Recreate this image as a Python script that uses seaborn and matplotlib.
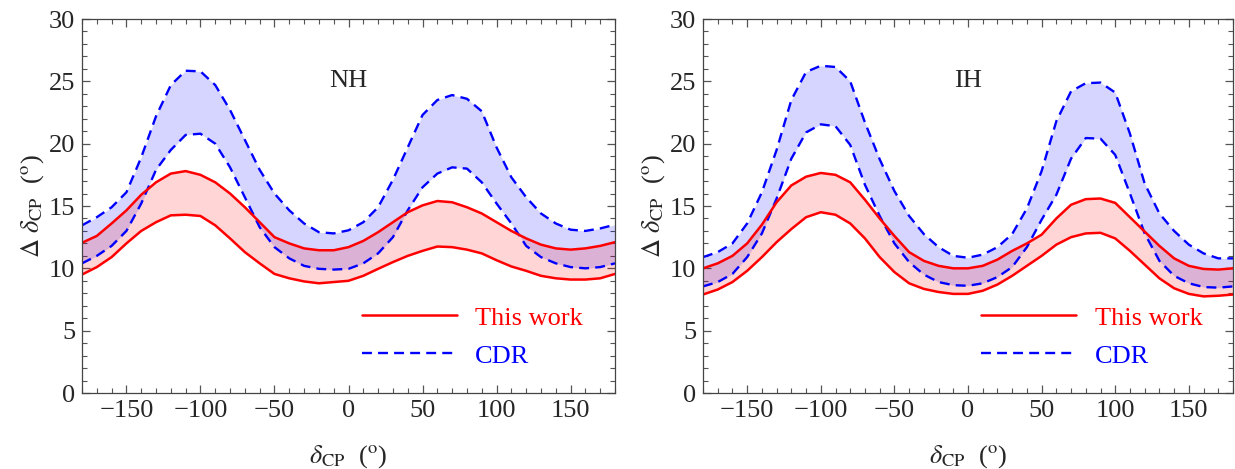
import numpy as np
import pandas as pd
import matplotlib
matplotlib.use("Agg")
import matplotlib.pyplot as plt
from matplotlib.lines import Line2D
from matplotlib.ticker import MultipleLocator
import seaborn as sns

# ---------------- data ----------------
delta_cp = [-180, -170, -160, -150, -140, -130, -120, -110, -100, -90, -80, -70, -60,
            -50, -40, -30, -20, -10, 0, 10, 20, 30, 40, 50, 60, 70, 80, 90, 100,
            110, 120, 130, 140, 150, 160, 170, 180]

# NH
nh_cdr_upper = [13.45, 14.1, 14.9, 16.1, 18.9, 22.2, 24.7, 25.85, 25.8, 24.7, 22.7, 20.3, 17.9,
                16.0, 14.65, 13.6, 12.9, 12.8, 13.05, 13.7, 14.9, 17.1, 19.7, 22.3, 23.5, 23.9, 23.6, 22.6, 19.7,
                17.3, 15.7, 14.4, 13.6, 13.1, 13.0, 13.2, 13.5]
nh_cdr_lower = [10.4, 11.0, 11.8, 13.0, 15.2, 17.9, 19.5, 20.7, 20.8, 20.0, 18.1, 15.7, 13.3,
                11.7, 10.8, 10.2, 9.96, 9.9, 9.96, 10.4, 11.2, 12.5, 14.65, 16.5, 17.6, 18.1, 18.0, 16.9, 15.2,
                13.6, 11.8, 10.9, 10.4, 10.1, 10.0, 10.1, 10.4]
nh_this_upper = [12.05, 12.6, 13.6, 14.65, 15.9, 16.9, 17.6, 17.8, 17.5, 16.9, 16.0, 14.9, 13.7,
                 12.5, 12.0, 11.6, 11.45, 11.45, 11.7, 12.2, 12.9, 13.7, 14.5, 15.05, 15.4, 15.3, 14.9, 14.4, 13.7,
                 13.0, 12.4, 11.9, 11.6, 11.5, 11.6, 11.8, 12.1]
nh_this_lower = [9.5, 10.1, 10.9, 12.0, 13.0, 13.7, 14.25, 14.3, 14.2, 13.45, 12.4, 11.3, 10.4,
                 9.55, 9.2, 8.95, 8.8, 8.9, 9.0, 9.4, 9.96, 10.5, 11.0, 11.4, 11.75, 11.7, 11.5, 11.2, 10.65,
                 10.15, 9.8, 9.4, 9.2, 9.1, 9.1, 9.2, 9.55]

# IH
ih_cdr_upper = [10.9, 11.3, 12.0, 13.6, 16.1, 19.5, 23.5, 25.75, 26.25, 26.15, 25.0, 21.7, 18.75,
                16.2, 14.2, 12.75, 11.7, 11.0, 10.85, 11.1, 11.7, 12.75, 14.8, 17.8, 21.8, 24.2, 24.85, 24.9, 24.1,
                20.8, 16.8, 14.4, 13.0, 11.9, 11.2, 10.8, 10.8]
ih_cdr_lower = [8.55, 8.9, 9.55, 10.9, 12.8, 15.6, 18.8, 20.9, 21.55, 21.4, 19.9, 16.7, 14.2,
                12.0, 10.5, 9.5, 8.9, 8.65, 8.6, 8.8, 9.3, 10.1, 11.7, 13.9, 15.9, 18.8, 20.45, 20.4, 19.1,
                16.0, 12.8, 10.6, 9.4, 8.8, 8.5, 8.45, 8.55]
ih_this_upper = [10.0, 10.4, 11.0, 12.0, 13.5, 15.3, 16.65, 17.35, 17.65, 17.5, 16.9, 15.5, 14.0,
                 12.6, 11.3, 10.6, 10.2, 10.0, 10.0, 10.2, 10.7, 11.4, 12.0, 12.7, 14.0, 15.1, 15.55, 15.6, 15.25,
                 14.1, 12.95, 11.8, 10.8, 10.2, 9.95, 9.9, 10.0]
ih_this_lower = [7.9, 8.3, 8.9, 9.8, 10.9, 12.1, 13.15, 14.1, 14.5, 14.3, 13.6, 12.4, 10.9,
                 9.7, 8.8, 8.35, 8.1, 7.95, 7.95, 8.2, 8.7, 9.4, 10.2, 11.0, 11.9, 12.5, 12.8, 12.85, 12.4,
                 11.4, 10.3, 9.2, 8.4, 7.95, 7.75, 7.8, 7.9]

panel_labels = ["NH", "IH"]
legend_labels = ["This work", "CDR"]
x_ticks = [-150, -100, -50, 0, 50, 100, 150]
x_tick_labels = ["\u2212150", "\u2212100", "\u221250", "0", "50", "100", "150"]
y_ticks = [0, 5, 10, 15, 20, 25, 30]

# ---------------- style ----------------
sns.set_style("ticks")
plt.rcParams["font.family"] = ["Liberation Serif", "DejaVu Serif"]
plt.rcParams["mathtext.fontset"] = "stix"

RED = "#ff0000"
BLUE = "#0000ff"
FS = 19

fig = plt.figure(figsize=(12.35, 4.69), dpi=100)
ax1 = fig.add_axes([82 / 1235, 1 - 393 / 469, (615 - 82) / 1235, (393 - 19) / 469])
ax2 = fig.add_axes([703 / 1235, 1 - 393 / 469, (1233 - 703) / 1235, (393 - 19) / 469])

panels = [
    (ax1, nh_cdr_upper, nh_cdr_lower, nh_this_upper, nh_this_lower, panel_labels[0]),
    (ax2, ih_cdr_upper, ih_cdr_lower, ih_this_upper, ih_this_lower, panel_labels[1]),
]

for ax, cu, cl, tu, tl, lab in panels:
    df = pd.DataFrame({"d": delta_cp, "cu": cu, "cl": cl, "tu": tu, "tl": tl})
    ax.fill_between(df["d"], df["cl"], df["cu"], color=(0, 0, 1, 0.165), lw=0)
    ax.fill_between(df["d"], df["tl"], df["tu"], color=(1, 0, 0, 0.165), lw=0)
    for col in ["cu", "cl"]:
        sns.lineplot(data=df, x="d", y=col, ax=ax, color=BLUE, lw=1.7,
                     linestyle=(0, (4.2, 2.6)), sort=False)
    for col in ["tu", "tl"]:
        sns.lineplot(data=df, x="d", y=col, ax=ax, color=RED, lw=1.8, sort=False)

    ax.set_xlim(-180, 180)
    ax.set_ylim(0, 30)
    ax.set_xticks(x_ticks)
    ax.set_yticks(y_ticks)
    ax.set_xticklabels(x_tick_labels)
    ax.xaxis.set_minor_locator(MultipleLocator(10))
    ax.yaxis.set_minor_locator(MultipleLocator(1))
    ax.tick_params(which="both", direction="in", top=True, right=True, labelsize=FS,
                   color="#555555", pad=5)
    ax.tick_params(which="major", length=6, width=0.9)
    ax.tick_params(which="minor", length=3.5, width=0.8)
    for s in ax.spines.values():
        s.set_color("#444444")
        s.set_linewidth(0.9)

    ax.set_xlabel(r"$\delta_{\rm CP}$  ($^{\rm o}$)", fontsize=FS, labelpad=15)
    ax.set_ylabel(r"$\Delta\ \delta_{\rm CP}$  ($^{\rm o}$)", fontsize=FS, labelpad=2)
    ax.text(0, 25, lab, fontsize=FS, ha="center", va="center")

    handles = [Line2D([], [], color=RED, lw=1.8),
               Line2D([], [], color=BLUE, lw=1.7, linestyle=(0, (4.2, 2.6)))]
    leg = ax.legend(handles, legend_labels, loc="center left", bbox_to_anchor=(0.525, 0.15),
                    frameon=False, fontsize=FS, handlelength=3.6, handletextpad=0.7,
                    labelspacing=0.55, borderpad=0, borderaxespad=0)
    for t, c in zip(leg.get_texts(), [RED, BLUE]):
        t.set_color(c)

fig.savefig("out.png", dpi=100)
